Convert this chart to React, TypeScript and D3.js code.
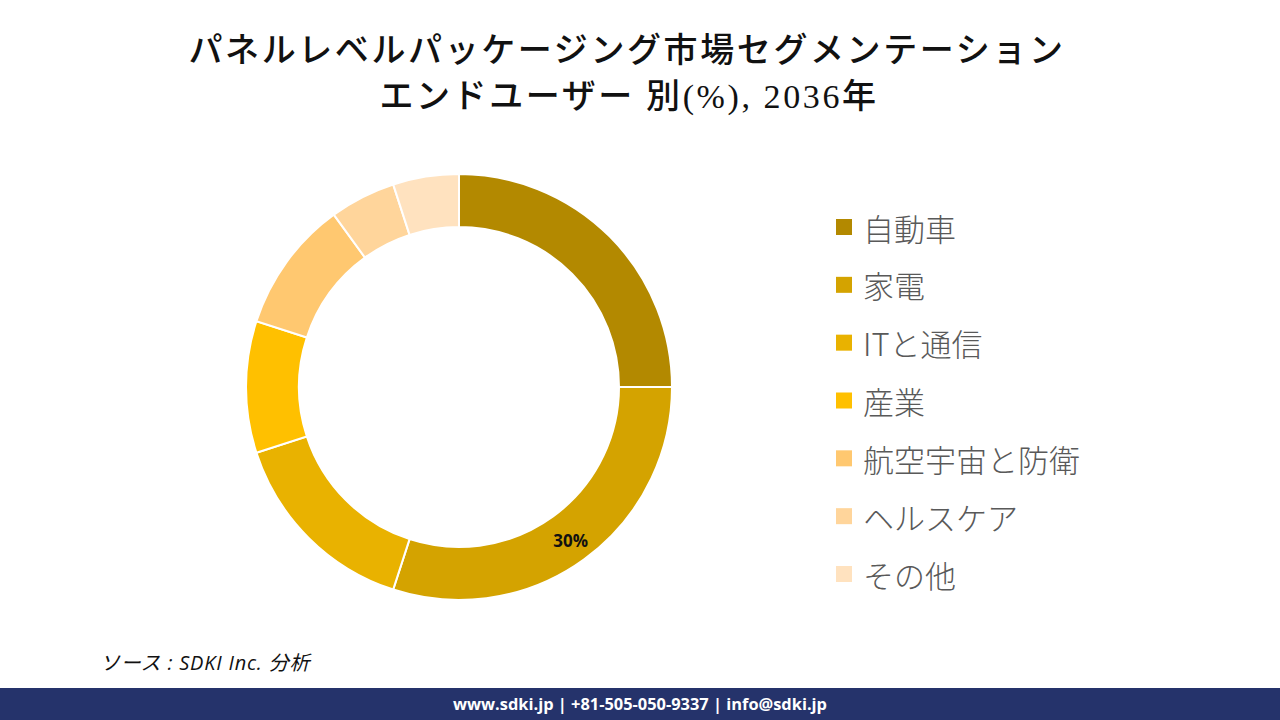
import React from "react";
import * as d3 from "d3";

const categories = ["自動車", "家電", "ITと通信", "産業", "航空宇宙と防衛", "ヘルスケア", "その他"];
const values = [25, 30, 15, 10, 10, 5, 5];
const colors = ["#B38900", "#D4A300", "#E9B200", "#FFC000", "#FFC870", "#FFD59B", "#FFE2BF"];
const shownLabels = ["", "30%", "", "", "", "", ""];

export default function App() {
  const W = 1280, H = 720;
  const cx = 459, cy = 387, rOut = 213, rIn = 160;
  const pie = d3.pie<number>().sort(null).value((d) => d)(values);
  const arc = d3.arc<d3.PieArcDatum<number>>().innerRadius(rIn).outerRadius(rOut);
  const legendY = d3.scalePoint<string>().domain(categories).range([227, 574]);
  const titleFont = "'Liberation Serif', 'Noto Sans CJK JP', serif";
  return (
    <svg width={W} height={H} style={{ position: "absolute", left: 0, top: 0 }}>
      <rect width={W} height={H} fill="#fff" />
      <text x={627} y={62} textAnchor="middle" fontFamily={titleFont} fontSize={34} fontWeight={500} letterSpacing={2.6} fill="#111">
        パネルレベルパッケージング市場セグメンテーション
      </text>
      <text x={629} y={108} textAnchor="middle" fontFamily={titleFont} fontSize={34} fontWeight={500} letterSpacing={2.6} fill="#111">
        エンドユーザー 別(%), 2036年
      </text>
      <g transform={`translate(${cx},${cy})`}>
        {pie.map((p, i) => (
          <path key={i} d={arc(p) || ""} fill={colors[i]} stroke="#fff" strokeWidth={2} />
        ))}
        {pie.map((p, i) => {
          if (!shownLabels[i]) return null;
          const mid = (p.startAngle + p.endAngle) / 2;
          const r = 190;
          return (
            <text key={"l" + i} x={Math.sin(mid) * r} y={-Math.cos(mid) * r} textAnchor="middle" dominantBaseline="central"
              fontFamily="'Open Sans', 'Noto Sans', sans-serif" fontWeight={700} fontSize={17} fill="#111">
              {shownLabels[i]}
            </text>
          );
        })}
      </g>
      {categories.map((c, i) => (
        <g key={c} transform={`translate(836,${legendY(c)})`}>
          <rect x={0} y={-8} width={16} height={16} fill={colors[i]} />
          <text x={27} y={0} dominantBaseline="central" fontFamily="'Noto Sans CJK JP', sans-serif" fontSize={31} fontWeight={300} fill="#595959">
            {c}
          </text>
        </g>
      ))}
      <text x={100} y={670} fontFamily="'Open Sans', 'Noto Sans CJK JP', sans-serif" fontStyle="italic" fontSize={20} letterSpacing={0.8} fill="#111">
        ソース : SDKI Inc. 分析
      </text>
      <rect x={0} y={688} width={W} height={32} fill="#25336B" />
      <text x={640} y={710} textAnchor="middle" fontFamily="'Open Sans', sans-serif" fontWeight={700} fontSize={16.4} fill="#fff">
        www.sdki.jp | +81-505-050-9337 | info@sdki.jp
      </text>
    </svg>
  );
}
